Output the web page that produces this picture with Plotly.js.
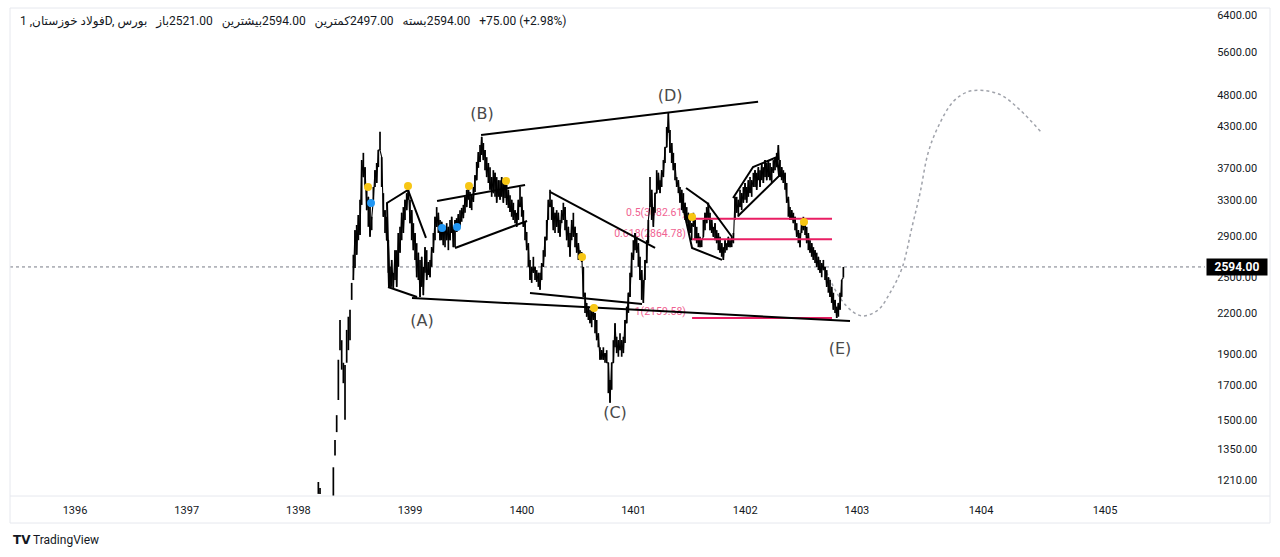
<!DOCTYPE html>
<html>
<head>
<meta charset="utf-8">
<script src="https://cdn.plot.ly/plotly-3.0.1.min.js"></script>
<style>
html,body{margin:0;padding:0;background:#fff;}
#chart{width:1280px;height:557px;}
</style>
</head>
<body>
<div id="chart"></div>
<script>
// ---- time scale of the bars (Persian years) ----
const firstBarYear = 1398.1784;
const barStepYears = 0.014921;

// ---- bar highs / lows (null = no trading) ----
const barHigh = [
1200,1175,null,null,null,null,null,null,null,
1265,1395,1525,1860,2145,1995,1840,1825,2070,2170,2225,2450,2710,2960,3015,3125,3300,3805,
3905,3710,3455,3335,3215,3105,3455,3670,3765,3945,4210,3845,3380,3180,3105,2855,2595,2660,2540,2755,2755,2930,2995,3150,3215,3300,3380,3455,
3300,3180,3035,2930,2825,2730,2660,2690,2595,2785,2755,2640,2660,2785,2930,3105,3215,3150,3070,3050,3015,2995,3035,2995,3070,3105,2995,3070,
3090,3135,3180,3205,3240,3335,3420,3480,3395,3355,3455,3605,3780,3915,4015,4135,4045,3945,3845,3765,3710,3580,3670,3635,3580,3540,3540,3580,
3505,3540,3480,3420,3355,3300,3265,3180,3150,3300,3455,3335,3180,3050,2940,2825,2660,2595,2690,2595,2565,2540,2540,2630,2755,2890,3070,3300,
3420,3300,3215,3150,3180,3150,3070,3180,3265,3215,3070,2995,2930,3070,3150,2995,2930,2825,2755,2735,2595,2365,2280,2250,2225,2225,2265,2200,
2145,2045,1945,1925,1945,1905,1925,1840,1730,1840,1995,2120,2020,1995,2045,1995,2020,2145,2250,2365,2540,2730,2855,2930,2890,2825,2690,2565,
2475,2660,2855,3070,3580,3420,3215,3380,3670,3635,3540,3670,3805,3985,4285,4505,4240,4045,3905,3765,3580,3540,3455,3420,3380,3265,3215,3150,
3105,3035,3150,3070,2995,2930,2890,2855,3070,3150,3215,3265,3150,3070,2995,3035,2960,2930,2890,2825,2785,2855,2825,2890,2855,2890,2930,3335,
3335,3300,3420,3380,3455,3505,3455,3540,3580,3540,3635,3670,3635,3710,3670,3765,3710,3805,3765,3805,3765,3710,3805,3845,3905,4015,3805,3710,
3670,3635,3505,3335,3215,3180,3150,3105,3035,2960,2930,3070,3105,3070,2995,2930,2855,2825,2785,2755,2730,2690,2660,2630,2660,2595,2565,2500,
2475,2415,2365,2305,2250,2280,2365,2475,2594
];
const barLow = [
1150,1150,null,null,null,null,null,null,null,
1140,1320,1435,1610,1925,1795,1710,1500,1840,1925,1995,2305,2475,2585,2710,2855,2910,3240,
3580,3455,3180,2995,2890,2960,3300,3455,3505,3710,3945,3455,3105,2930,2855,2540,2415,2415,2405,2475,2415,2595,2730,2855,2930,3070,3180,3300,
3035,2855,2755,2660,2500,2475,2330,2415,2345,2540,2475,2520,2500,2595,2730,2855,2995,2930,2855,2855,2805,2785,2855,2755,2855,2930,2785,2785,
2940,2960,2995,3050,3090,3150,3215,3300,3205,3180,3275,3395,3540,3700,3780,3875,3805,3670,3580,3505,3420,3335,3380,3335,3265,3335,3300,3335,
3265,3320,3240,3205,3160,3105,3070,3035,2995,3070,3215,3105,2995,2855,2755,2595,2475,2450,2540,2475,2460,2415,2390,2475,2595,2690,2855,3070,
3215,3070,2960,2930,2995,2930,2890,3035,3070,2960,2855,2785,2690,2855,2890,2785,2730,2660,2660,2640,2330,2200,2170,2145,2120,2090,2145,2045,
1995,1945,1860,1860,1860,1840,1840,1650,1595,1670,1840,1945,1905,1880,1925,1880,1905,1975,2120,2200,2330,2500,2660,2755,2730,2595,2475,2305,
2280,2475,2630,2825,3215,3070,2995,3150,3380,3420,3380,3455,3580,3765,3985,4195,3905,3765,3670,3540,3455,3380,3265,3180,3150,3070,3035,2960,
2930,2855,2995,2855,2825,2785,2785,2785,2890,2960,3035,3070,2960,2930,2890,2855,2825,2755,2730,2690,2660,2730,2755,2785,2785,2785,2825,3070,
3150,3105,3215,3180,3265,3300,3265,3335,3380,3335,3455,3455,3420,3540,3455,3540,3505,3580,3540,3580,3540,3505,3635,3670,3710,3805,3580,3540,
3505,3420,3265,3105,3070,3070,3035,2960,2890,2825,2785,2930,2960,2910,2825,2755,2730,2690,2660,2630,2595,2565,2540,2500,2565,2475,2415,2365,
2330,2280,2225,2200,2160,2170,2225,2330,2497
];
const lastClose = 2594;
// bars before this index were thinly traded (drawn as separate ticks only)
const continuousFromIndex = 21;

// ---- axis ticks ----
const yearTickPos  = [1396,1397,1398,1399,1400,1401,1402,1403,1404.111,1405.221];
const yearTickText = ['1396','1397','1398','1399','1400','1401','1402','1403','1404','1405'];
const priceTicks = [1210,1350,1500,1700,1900,2200,2500,2900,3300,3700,4300,4800,5600,6400];

// ---- drawings (year, price) ----
const trendYears = [
 1399.635,1402.115,null,
 1400.252,1401.193,null,
 1400.073,1401.076,null,
 1399.017,1402.938,null,
 1398.802,1399.062,null,
 1398.811,1398.793,1398.981,1399.142,null,
 1399.241,1400.029,null,
 1399.402,1400.047,null,
 1401.470,1401.658,1401.882,null,
 1401.416,1401.524,1401.792,null,
 1401.891,1402.070,1402.285,1402.303,1401.936
];
const trendPrices = [
 4163,4688,null,
 3394,2777,null,
 2363,2272,null,
 2321,2137,null,
 2414,2329,null,
 2414,3263,3418,2878,null,
 3286,3480,null,
 2777,3059,null,
 3443,3263,2888,null,
 3381,2777,2660,null,
 3321,3711,3847,3594,3114
];
const waveLabels = ['(A)','(B)','(C)','(D)','(E)'];
const waveYears  = [1399.107,1399.644,1400.834,1401.327,1402.849];
const wavePrices = [2130,4472,1531,4770,1926];

const fibRatios = ['0.5','0.618','1'];
const fibLevels = [3082.61,2864.78,2159.58];
const fibStartYear = 1401.524;
const fibEndYear = 1402.777;
const fibLabelYear = 1401.47;

const yellowDotYears  = [1398.623,1398.981,1399.527,1399.859,1400.539,1400.646,1401.524,1402.526];
const yellowDotPrices = [3455,3467,3467,3530,2689,2240,3103,3048];
const blueDotYears  = [1398.650,1399.286,1399.420];
const blueDotPrices = [3263,2982,2993];

const projYears  = [1402.705,1402.849,1402.965,1403.055,1403.189,1403.296,1403.404,1403.493,1403.565,1403.637,1403.726,1403.860,1403.995,1404.147,1404.299,1404.460,1404.657];
const projPrices = [2594,2321,2208,2176,2223,2363,2584,2993,3381,3903,4284,4688,4862,4880,4795,4553,4193];

// ---- header texts ----
const titleText = 'فولاد خوزستان, 1D, بورس';
const ohlcLabels = ['باز','بیشترین','کمترین','بسته'];
const ohlcValues = ['2521.00','2594.00','2497.00','2594.00'];
const changeText = '+75.00 (+2.98%)';

// ---- build ----
const xRange = [1395.418, 1406.116];
const yRange = [3.0574, 3.8171];

const segX = [], segY = [];
const zigX = [], zigY = [];
barHigh.forEach((h, i) => {
  if (h == null) return;
  const t = firstBarYear + i * barStepYears;
  segX.push(t, t, null);
  segY.push(barLow[i], h, null);
  if (i >= continuousFromIndex) {
    zigX.push(t);
    zigY.push(i % 2 === 0 ? h : barLow[i]);
  }
});

const fibX = [], fibY = [];
fibLevels.forEach(v => { fibX.push(fibStartYear, fibEndYear, null); fibY.push(v, v, null); });

const traces = [
  { x: xRange, y: [lastClose, lastClose], mode: 'lines', line: {color: '#787b86', width: 1, dash: 'dot'}, hoverinfo: 'skip' },
  { x: fibLevels.map(() => fibLabelYear), y: fibLevels, mode: 'text', text: fibLevels.map((v, i) => fibRatios[i] + '(' + v.toFixed(2) + ')'),
    textposition: 'top left', textfont: {family: 'Roboto, sans-serif', size: 10.5, color: '#f06292'}, cliponaxis: false },
  { x: projYears, y: projPrices, mode: 'lines', line: {color: '#a0a3ab', width: 1.5, dash: 'dot', shape: 'spline', smoothing: 1}, hoverinfo: 'skip' },
  { x: segX, y: segY, mode: 'lines', line: {color: '#000000', width: 1.7}, hoverinfo: 'skip' },
  { x: zigX, y: zigY, mode: 'lines', line: {color: '#000000', width: 1.1}, hoverinfo: 'skip' },
  { x: fibX, y: fibY, mode: 'lines', line: {color: '#e91e63', width: 2}, hoverinfo: 'skip' },
  { x: trendYears, y: trendPrices, mode: 'lines', line: {color: '#000000', width: 2}, hoverinfo: 'skip' },
  { x: yellowDotYears, y: yellowDotPrices, mode: 'markers', marker: {color: '#f7c614', size: 8}, hoverinfo: 'skip' },
  { x: blueDotYears, y: blueDotPrices, mode: 'markers', marker: {color: '#2196f3', size: 8}, hoverinfo: 'skip' },
  { x: waveYears, y: wavePrices, mode: 'text', text: waveLabels, textposition: 'middle center',
    textfont: {family: 'DejaVu Sans, sans-serif', size: 16, color: '#4a4a4a'}, cliponaxis: false }
];

const LRM = '\u200E';
const gap = '\u00a0\u00a0\u00a0';
const headerText = titleText + LRM + gap +
  ohlcLabels.map((l, i) => l + LRM + ohlcValues[i]).join(gap) + gap + changeText;

const W = 1280, H = 557, mL = 10, mR = 75, mT = 8, mB = 61;
const pw = W - mL - mR, ph = H - mT - mB;
const px = v => (v - mL) / pw;       // page x -> paper
const py = v => (H - mB - v) / ph;   // page y -> paper
const lastPaperY = (Math.log10(lastClose) - yRange[0]) / (yRange[1] - yRange[0]);
const frame = '#e6e8ee';

const layout = {
  width: W, height: H,
  margin: {l: mL, r: mR, t: mT, b: mB},
  paper_bgcolor: '#ffffff', plot_bgcolor: '#ffffff',
  showlegend: false,
  xaxis: {
    range: xRange, tickmode: 'array', tickvals: yearTickPos, ticktext: yearTickText,
    showgrid: false, zeroline: false, showline: false,
    ticks: 'outside', ticklen: 4, tickcolor: 'rgba(0,0,0,0)',
    tickfont: {family: 'Roboto, sans-serif', size: 11, color: '#131722'}
  },
  yaxis: {
    type: 'log', range: yRange, side: 'right', tickmode: 'array',
    tickvals: priceTicks, ticktext: priceTicks.map(v => v.toFixed(2)),
    showgrid: false, zeroline: false, showline: false,
    ticks: 'outside', ticklen: 9, tickcolor: 'rgba(0,0,0,0)',
    tickfont: {family: 'Roboto, sans-serif', size: 11, color: '#131722'}
  },
  shapes: [
    {type: 'line', xref: 'paper', yref: 'paper', x0: px(10), x1: px(1270), y0: py(8), y1: py(8), line: {color: frame, width: 1}},
    {type: 'line', xref: 'paper', yref: 'paper', x0: px(10), x1: px(1270), y0: py(496), y1: py(496), line: {color: frame, width: 1}},
    {type: 'line', xref: 'paper', yref: 'paper', x0: px(10), x1: px(1270), y0: py(523), y1: py(523), line: {color: frame, width: 1}},
    {type: 'line', xref: 'paper', yref: 'paper', x0: px(10), x1: px(10), y0: py(8), y1: py(523), line: {color: frame, width: 1}},
    {type: 'line', xref: 'paper', yref: 'paper', x0: px(1270), x1: px(1270), y0: py(8), y1: py(523), line: {color: frame, width: 1}}
  ],
  annotations: [
    {xref: 'paper', yref: 'paper', x: px(18), y: py(22), xanchor: 'left', yanchor: 'middle', showarrow: false,
     text: headerText, font: {family: 'Roboto, DejaVu Sans, sans-serif', size: 12, color: '#131722'}},
    {xref: 'paper', yref: 'paper', x: px(1237), y: lastPaperY, xanchor: 'center', yanchor: 'middle', showarrow: false,
     text: '<b>' + lastClose.toFixed(2) + '</b>', bgcolor: '#000000', borderpad: 2, width: 56, height: 12,
     font: {family: 'Roboto, sans-serif', size: 12, color: '#ffffff'}},
    {xref: 'paper', yref: 'paper', x: px(11), y: py(540), xanchor: 'left', yanchor: 'middle', showarrow: false,
     text: '<b>TV</b>', font: {family: 'DejaVu Sans, sans-serif', size: 12, color: '#131722'}},
    {xref: 'paper', yref: 'paper', x: px(31), y: py(540), xanchor: 'left', yanchor: 'middle', showarrow: false,
     text: 'TradingView', font: {family: 'Roboto, sans-serif', size: 12, color: '#131722'}}
  ]
};

Plotly.newPlot('chart', traces, layout, {staticPlot: true, displayModeBar: false});
</script>
</body>
</html>
